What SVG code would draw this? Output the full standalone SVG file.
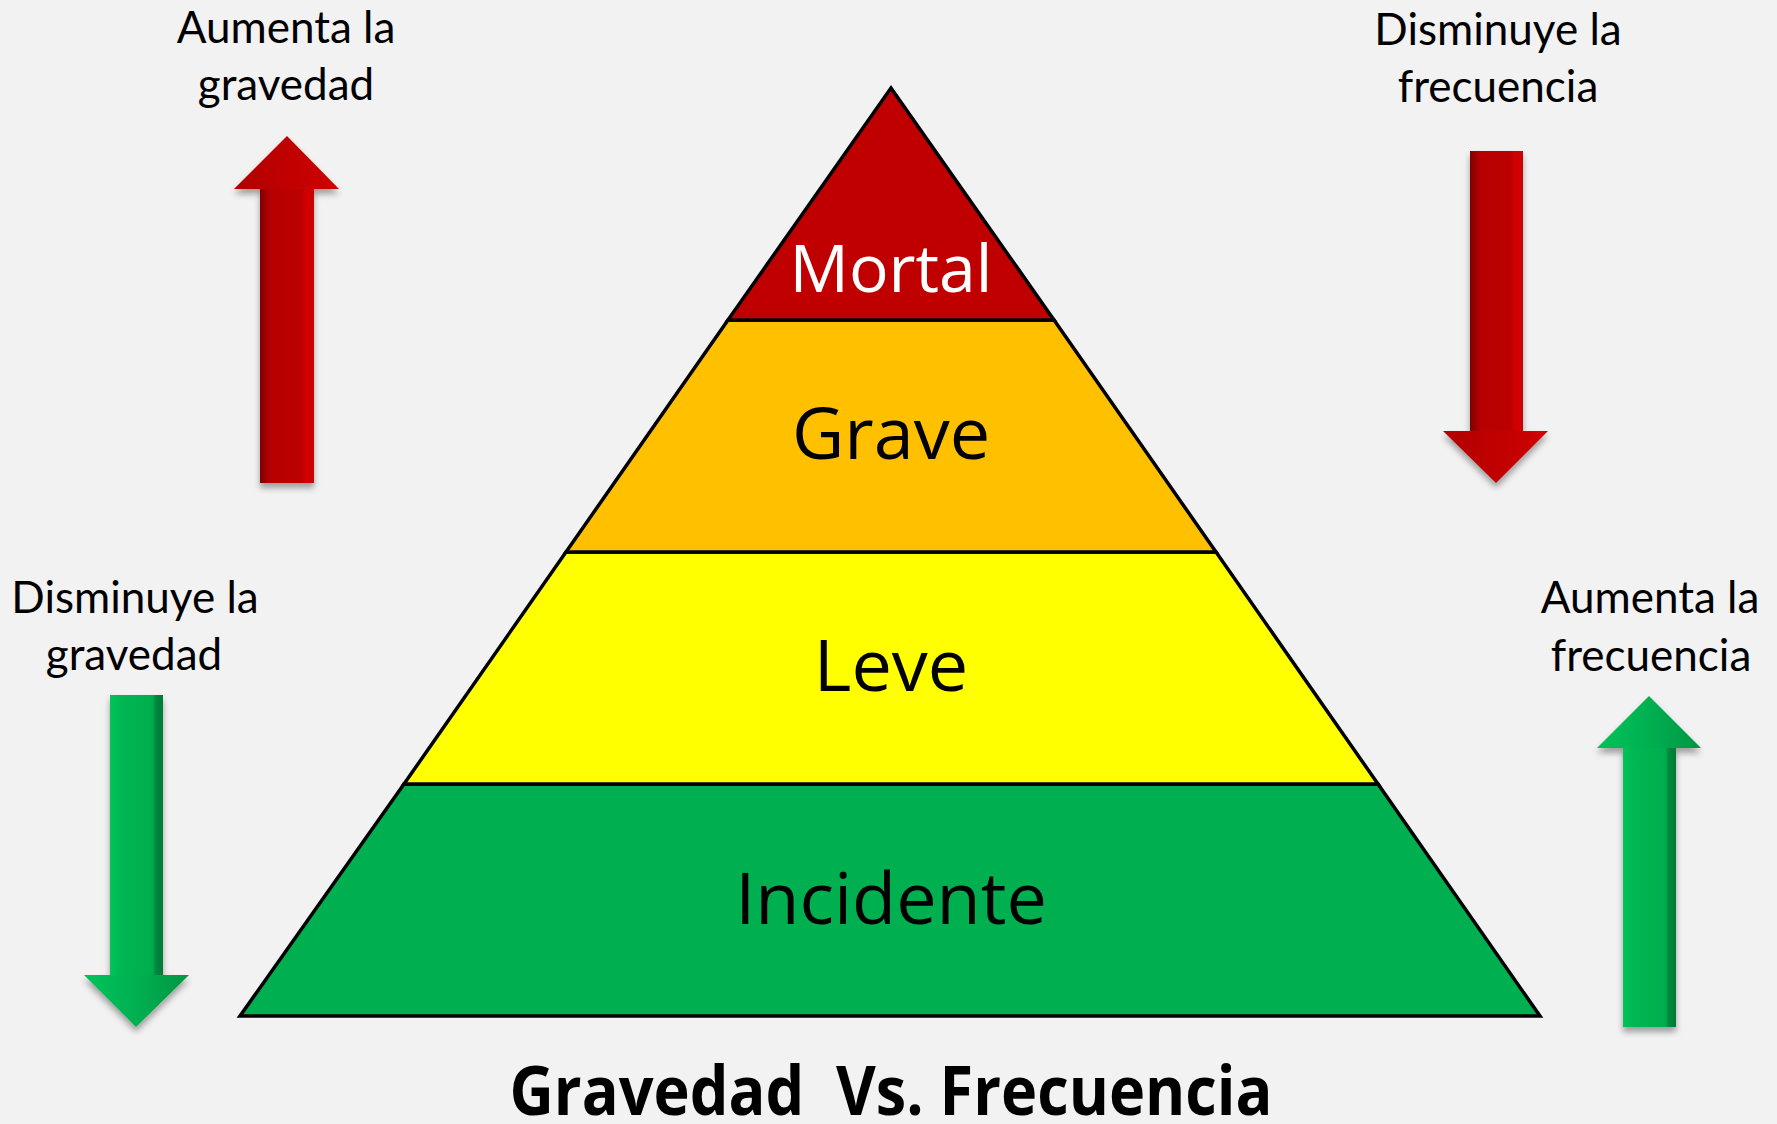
<svg xmlns="http://www.w3.org/2000/svg" width="1777" height="1124" viewBox="0 0 1777 1124">
<style>
.lvl{stroke:#000;stroke-width:3.5;stroke-linejoin:miter}
.lbl{font-family:"Open Sans","Noto Sans",sans-serif;font-size:72px;text-anchor:middle}
.side{font-family:Lato,"Open Sans",sans-serif;font-size:44px;fill:#000;text-anchor:middle}
.title{font-family:"Open Sans","Noto Sans",sans-serif;font-weight:bold;font-size:68px;text-anchor:middle;fill:#000}
</style>
<defs>
<linearGradient id="redShaft" x1="0" y1="0" x2="1" y2="0">
<stop offset="0" stop-color="#7e0000"/>
<stop offset="0.2" stop-color="#b80000"/>
<stop offset="0.78" stop-color="#bc0000"/>
<stop offset="0.84" stop-color="#d20000"/>
<stop offset="1" stop-color="#cc0000"/>
</linearGradient>
<linearGradient id="redHead" x1="0" y1="0" x2="1" y2="0">
<stop offset="0" stop-color="#b00000"/>
<stop offset="0.5" stop-color="#c00000"/>
<stop offset="1" stop-color="#d00000"/>
</linearGradient>
<linearGradient id="greenShaft" x1="0" y1="0" x2="1" y2="0">
<stop offset="0" stop-color="#00c45a"/>
<stop offset="0.18" stop-color="#00b852"/>
<stop offset="0.8" stop-color="#00ad4e"/>
<stop offset="0.86" stop-color="#00883e"/>
<stop offset="1" stop-color="#007a36"/>
</linearGradient>
<linearGradient id="greenHead" x1="0" y1="0" x2="1" y2="0">
<stop offset="0" stop-color="#00c25a"/>
<stop offset="0.5" stop-color="#00b050"/>
<stop offset="1" stop-color="#009544"/>
</linearGradient>
<filter id="shadow" x="-30%" y="-10%" width="160%" height="120%">
<feDropShadow dx="0" dy="5" stdDeviation="3" flood-color="#000" flood-opacity="0.35"/>
</filter>
</defs>
<rect x="0" y="0" width="1777" height="1124" fill="#f2f2f2"/>

<g id="connectors">
<g id="arrow-up-red" filter="url(#shadow)">
<rect x="260" y="188" width="54" height="295" fill="url(#redShaft)"/>
<polygon points="287,136 339,189 234,189" fill="url(#redHead)"/>
</g>
<g id="arrow-down-red" filter="url(#shadow)">
<rect x="1470" y="151" width="53" height="281" fill="url(#redShaft)"/>
<polygon points="1443,431 1548,431 1496,483" fill="url(#redHead)"/>
</g>
<g id="arrow-down-green" filter="url(#shadow)">
<rect x="110" y="695" width="53" height="281" fill="url(#greenShaft)"/>
<polygon points="84,975 189,975 136,1027" fill="url(#greenHead)"/>
</g>
<g id="arrow-up-green" filter="url(#shadow)">
<rect x="1623" y="747" width="53" height="280" fill="url(#greenShaft)"/>
<polygon points="1649,696 1701,748 1597,748" fill="url(#greenHead)"/>
</g>
</g>

<g id="level-incidente">
<polygon class="lvl" points="404,784 1378,784 1540,1016 240,1016" fill="#00b050"/>
<text class="lbl" x="891" y="924" fill="#000">Incidente</text>
</g>
<g id="level-leve">
<polygon class="lvl" points="566,552 1216,552 1378,784 404,784" fill="#ffff00"/>
<text class="lbl" x="891" y="691" fill="#000">Leve</text>
</g>
<g id="level-grave">
<polygon class="lvl" points="728,320 1054,320 1216,552 566,552" fill="#ffc000"/>
<text class="lbl" x="891" y="459" fill="#000">Grave</text>
</g>
<g id="level-mortal">
<polygon class="lvl" points="891,88 1054,320 728,320" fill="#c00000"/>
<text class="lbl" x="891" y="292" fill="#fff" style="font-size:66px">Mortal</text>
</g>

<g id="label-aumenta-gravedad">
<text class="side" x="286" y="43">Aumenta la</text>
<text class="side" x="286" y="100">gravedad</text>
</g>
<g id="label-disminuye-frecuencia">
<text class="side" x="1498" y="45">Disminuye la</text>
<text class="side" x="1498" y="102">frecuencia</text>
</g>
<g id="label-disminuye-gravedad">
<text class="side" x="135" y="613">Disminuye la</text>
<text class="side" x="134" y="670">gravedad</text>
</g>
<g id="label-aumenta-frecuencia">
<text class="side" x="1650" y="613">Aumenta la</text>
<text class="side" x="1651" y="671">frecuencia</text>
</g>

<g id="title">
<text class="title" x="891" y="1115" textLength="763" lengthAdjust="spacingAndGlyphs">Gravedad&#160; Vs. Frecuencia</text>
</g>
</svg>
